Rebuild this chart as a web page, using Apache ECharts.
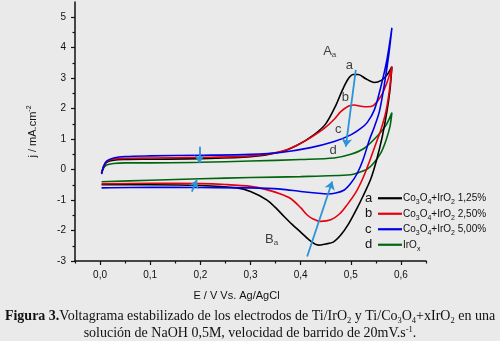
<!DOCTYPE html>
<html>
<head>
<meta charset="utf-8">
<script src="https://cdn.jsdelivr.net/npm/echarts@6/dist/echarts.min.js"></script>
<style>
html, body { margin: 0; padding: 0; background: #eaeaea; }
#chart { width: 500px; height: 341px; }
</style>
</head>
<body>
<div id="chart"></div>
<script>
// a: Co3O4+IrO2 1,25%  (barrido de ida y de vuelta)
const E_a = [0.003, 0.007, 0.013, 0.027, 0.05, 0.1, 0.2, 0.3, 0.36, 0.393, 0.427, 0.45, 0.47, 0.483, 0.495, 0.505, 0.515, 0.53, 0.547, 0.56, 0.572, 0.582,
  0.578, 0.572, 0.563, 0.552, 0.54, 0.525, 0.51, 0.495, 0.48, 0.465, 0.45, 0.435, 0.42, 0.4, 0.383, 0.367, 0.35, 0.333, 0.3, 0.273, 0.2, 0.1, 0.003];
const j_a = [-0.12, 0.1, 0.24, 0.31, 0.33, 0.34, 0.36, 0.42, 0.58, 0.8, 1.15, 1.5, 2.1, 2.6, 2.98, 3.12, 3.12, 2.98, 2.86, 2.92, 3.1, 3.38,
  2.6, 1.9, 1.1, 0.35, -0.3, -0.85, -1.35, -1.8, -2.15, -2.38, -2.44, -2.48, -2.35, -2.05, -1.8, -1.54, -1.25, -1.0, -0.72, -0.6, -0.52, -0.5, -0.5];

// b: Co3O4+IrO2 2,50%
const E_b = [0.003, 0.007, 0.013, 0.027, 0.05, 0.1, 0.2, 0.3, 0.36, 0.393, 0.42, 0.447, 0.467, 0.48, 0.495, 0.507, 0.52, 0.533, 0.545, 0.56, 0.572, 0.582,
  0.577, 0.57, 0.56, 0.55, 0.538, 0.525, 0.51, 0.493, 0.478, 0.46, 0.44, 0.425, 0.413, 0.4, 0.38, 0.36, 0.33, 0.3, 0.25, 0.2, 0.1, 0.003];
const j_b = [-0.12, 0.1, 0.26, 0.35, 0.37, 0.38, 0.4, 0.45, 0.59, 0.8, 1.05, 1.35, 1.65, 1.9, 2.08, 2.12, 2.08, 2.06, 2.1, 2.4, 2.85, 3.38,
  2.6, 1.9, 1.3, 0.85, 0.3, -0.25, -0.75, -1.15, -1.45, -1.65, -1.7, -1.62, -1.49, -1.25, -0.95, -0.8, -0.65, -0.55, -0.49, -0.46, -0.45, -0.47];

// c: Co3O4+IrO2 5,00%
const E_c = [0.003, 0.007, 0.013, 0.027, 0.05, 0.1, 0.2, 0.3, 0.36, 0.42, 0.467, 0.5, 0.52, 0.533, 0.547, 0.56, 0.572, 0.582,
  0.576, 0.568, 0.557, 0.547, 0.537, 0.525, 0.513, 0.5, 0.487, 0.47, 0.453, 0.43, 0.4, 0.36, 0.3, 0.2, 0.1, 0.003];
const j_c = [-0.15, 0.1, 0.28, 0.38, 0.43, 0.45, 0.47, 0.5, 0.56, 0.72, 0.92, 1.14, 1.35, 1.55, 1.96, 2.72, 3.6, 4.65,
  3.8, 2.9, 1.9, 1.4, 0.97, 0.35, -0.12, -0.45, -0.67, -0.77, -0.8, -0.77, -0.72, -0.64, -0.6, -0.59, -0.58, -0.6];

// d: IrOx
const E_d = [0.003, 0.007, 0.013, 0.027, 0.05, 0.1, 0.2, 0.3, 0.4, 0.467, 0.5, 0.527, 0.553, 0.57, 0.582,
  0.578, 0.57, 0.56, 0.545, 0.533, 0.515, 0.5, 0.4, 0.3, 0.2, 0.1, 0.003];
const j_d = [-0.12, 0.05, 0.15, 0.2, 0.22, 0.22, 0.24, 0.28, 0.33, 0.38, 0.5, 0.7, 1.1, 1.45, 1.87,
  1.4, 0.95, 0.55, 0.2, 0.02, -0.1, -0.17, -0.23, -0.26, -0.3, -0.35, -0.4];

const seriesNames = ['Co3O4+IrO2 1,25%', 'Co3O4+IrO2 2,50%', 'Co3O4+IrO2 5,00%', 'IrOx'];
const seriesLetters = ['a', 'b', 'c', 'd'];
const legendLabels = ['Co{s|3}O{s|4}+IrO{s|2} 1,25%', 'Co{s|3}O{s|4}+IrO{s|2} 2,50%', 'Co{s|3}O{s|4}+IrO{s|2} 5,00%', 'IrO{s|x}'];
const seriesColors = ['#000000', '#e4000f', '#0000e8', '#00650f'];

// ejes
const xTickValues = [0, 0.1, 0.2, 0.3, 0.4, 0.5, 0.6];
const xMinorValues = [-0.05, 0.05, 0.15, 0.25, 0.35, 0.45, 0.55, 0.65];
const yTickValues = [-3, -2, -1, 0, 1, 2, 3, 4, 5];
const yMinorValues = [-2.5, -1.5, -0.5, 0.5, 1.5, 2.5, 3.5, 4.5];

// anotaciones (texto en coordenadas de datos)
const noteText = ['A{s|a}', 'a', 'b', 'c', 'd', 'B{s|a}'];
const noteE = [0.458, 0.497, 0.489, 0.475, 0.465, 0.342];
const noteJ = [3.87, 3.43, 2.37, 1.32, 0.62, -2.28];

// flechas
const arrowFrom = [[0.51, 3.27], [0.413, -2.85], [0.198, 0.75], [0.183, -0.72]];
const arrowTo = [[0.49, 0.75], [0.463, -0.39], [0.198, 0.21], [0.193, -0.34]];

const curves = [[E_a, j_a], [E_b, j_b], [E_c, j_c], [E_d, j_d]];
const font = 'Liberation Sans, Arial, sans-serif';
const serif = 'Liberation Serif, Times New Roman, serif';

const myChart = echarts.init(document.getElementById('chart'));

const subRich = {
  s: { fontSize: 7, fontFamily: font, color: '#111', lineHeight: 9, verticalAlign: 'bottom' },
};

const lineSeries = curves.map((c, k) => ({
  name: seriesNames[k],
  type: 'line',
  data: c[0].map((e, i) => [e, c[1][i]]),
  symbol: 'none',
  smooth: 0.3,
  lineStyle: { color: seriesColors[k], width: 1.6 },
  itemStyle: { color: seriesColors[k] },
  z: [3, 4, 5, 2][k],
}));

const option = {
  backgroundColor: '#eaeaea',
  animation: false,
  grid: { left: 75, right: 74, top: 2, bottom: 80 },
  title: {
    text: '{b|Figura 3.}Voltagrama estabilizado de los electrodos de Ti/IrO{s|2} y Ti/Co{s|3}O{s|4}+xIrO{s|2} en una\nsolución de NaOH 0,5M, velocidad de barrido de 20mV.s{p|-1}.',
    left: 'center',
    top: 308.5,
    padding: 0,
    textStyle: {
      fontFamily: serif,
      fontSize: 14,
      fontWeight: 'normal',
      color: '#111',
      lineHeight: 16.5,
      rich: {
        b: { fontFamily: serif, fontSize: 14, fontWeight: 'bold', color: '#111', lineHeight: 16.5 },
        s: { fontFamily: serif, fontSize: 8.5, color: '#111', lineHeight: 12, verticalAlign: 'bottom' },
        p: { fontFamily: serif, fontSize: 8.5, color: '#111', lineHeight: 12, verticalAlign: 'top' },
      },
    },
  },
  legend: [
    {
      data: seriesNames,
      orient: 'vertical',
      left: 373,
      top: 185.5,
      itemWidth: 24,
      itemHeight: 2.2,
      itemGap: 0,
      icon: 'rect',
      selectedMode: false,
      formatter: n => legendLabels[seriesNames.indexOf(n)],
      textStyle: {
        fontFamily: font,
        fontSize: 10,
        color: '#111',
        lineHeight: 15.5,
        padding: [0, 0, 0, -4],
        rich: subRich,
      },
    },
    {
      data: seriesNames,
      orient: 'vertical',
      left: 355,
      top: 185.5,
      itemWidth: 0,
      itemHeight: 0,
      itemGap: 0,
      icon: 'rect',
      selectedMode: false,
      formatter: n => seriesLetters[seriesNames.indexOf(n)],
      textStyle: { fontFamily: font, fontSize: 13, color: '#111', lineHeight: 15.5 },
    },
  ],
  xAxis: [
    {
      type: 'value',
      min: -0.05,
      max: 0.65,
      name: 'E / V Vs. Ag/AgCl',
      nameLocation: 'middle',
      nameGap: 29,
      nameTextStyle: { fontFamily: font, fontSize: 11, color: '#111', padding: [0, 28, 0, 0] },
      axisLine: { onZero: false, lineStyle: { color: '#111', width: 1.5 } },
      axisTick: { show: true, customValues: xTickValues, length: 4, inside: false, lineStyle: { color: '#111', width: 1.2 } },
      axisLabel: {
        customValues: xTickValues,
        formatter: v => v.toFixed(1).replace('.', ','),
        fontFamily: font, fontSize: 10, color: '#111', margin: 9,
      },
      splitLine: { show: false },
    },
    {
      type: 'value',
      min: -0.05,
      max: 0.65,
      position: 'bottom',
      axisLine: { show: false, onZero: false },
      axisTick: { show: true, customValues: xMinorValues, length: 2.5, lineStyle: { color: '#111', width: 1.2 } },
      axisLabel: { show: false },
      splitLine: { show: false },
    },
  ],
  yAxis: [
    {
      type: 'value',
      min: -3,
      max: 5.5,
      name: 'j / mA.cm{p|-2}',
      nameLocation: 'middle',
      nameGap: 35,
      nameTextStyle: {
        fontFamily: font, fontSize: 11, color: '#111', lineHeight: 14,
        rich: { p: { fontFamily: font, fontSize: 7, color: '#111', lineHeight: 9, verticalAlign: 'top' } },
      },
      axisLine: { onZero: false, lineStyle: { color: '#111', width: 1.5 } },
      axisTick: { show: true, customValues: yTickValues, length: 4, lineStyle: { color: '#111', width: 1.2 } },
      axisLabel: { customValues: yTickValues, fontFamily: font, fontSize: 10, color: '#111', margin: 9 },
      splitLine: { show: false },
    },
    {
      type: 'value',
      min: -3,
      max: 5.5,
      position: 'left',
      axisLine: { show: false, onZero: false },
      axisTick: { show: true, customValues: yMinorValues, length: 2.5, lineStyle: { color: '#111', width: 1.2 } },
      axisLabel: { show: false },
      splitLine: { show: false },
    },
  ],
  series: [
    ...lineSeries,
    {
      // flechas azules
      type: 'lines',
      coordinateSystem: 'cartesian2d',
      silent: true,
      z: 6,
      symbol: ['none', 'arrow'],
      symbolSize: 8,
      lineStyle: { color: '#2b93d6', width: 1.8, opacity: 1 },
      data: arrowFrom.map((p, i) => ({ coords: [p, arrowTo[i]] })),
    },
    {
      // letras sobre las curvas
      type: 'scatter',
      silent: true,
      symbolSize: 0,
      z: 7,
      data: noteE.map((e, i) => [e, noteJ[i], noteText[i]]),
      label: {
        show: true,
        position: 'inside',
        formatter: p => p.data[2],
        fontFamily: font,
        fontSize: 13,
        color: '#111',
        lineHeight: 15,
        rich: { s: { fontFamily: font, fontSize: 8, color: '#111', lineHeight: 10, verticalAlign: 'bottom' } },
      },
    },
  ],
};

myChart.setOption(option);
</script>
</body>
</html>
